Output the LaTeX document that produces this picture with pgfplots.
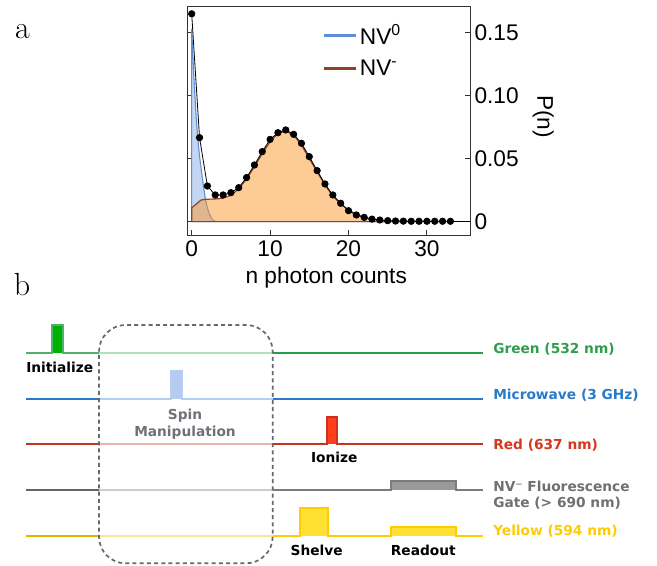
\documentclass[border=0pt]{standalone}
\usepackage{fontspec}
\usepackage{pgfplots}
\pgfplotsset{compat=1.18}
\newfontfamily\arial{Liberation Sans}
\newfontfamily\verd{DejaVu Sans}
\definecolor{cgreen}{HTML}{249C48}
\definecolor{cgreenF}{HTML}{B2DFC0}
\definecolor{cgreenP}{HTML}{00B200}
\definecolor{cgreenT}{HTML}{2E9E4C}
\definecolor{cblue}{HTML}{2A7AC8}
\definecolor{cblueF}{HTML}{B3CFF5}
\definecolor{cblueP}{HTML}{B5CCEE}
\definecolor{cred}{HTML}{C8321E}
\definecolor{credF}{HTML}{E9B4AC}
\definecolor{credP}{HTML}{FF3E1E}
\definecolor{credT}{HTML}{D4371C}
\definecolor{cgray}{HTML}{646569}
\definecolor{cgrayF}{HTML}{CACBCD}
\definecolor{cgrayP}{HTML}{9A9A9A}
\definecolor{cgrayT}{HTML}{707070}
\definecolor{cyelL}{HTML}{E6B200}
\definecolor{cyelF}{HTML}{F6E4A2}
\definecolor{cyel}{HTML}{FFCC00}
\definecolor{cyelP}{HTML}{FFE033}
\definecolor{cbox}{HTML}{666A70}
\definecolor{cspin}{HTML}{6E7178}
\definecolor{nvblue}{HTML}{5B8ED6}
\definecolor{nvbluefill}{HTML}{C5D6F0}
\definecolor{nvorange}{HTML}{FB972D}
\definecolor{nvbrown}{HTML}{8E4424}
\begin{document}
\begin{tikzpicture}
\useasboundingbox (0pt,0pt) rectangle (492.75pt,423.75pt);
% ---------------- panel b: timing diagram (pixel coordinates) ----------------
\begin{axis}[at={(0pt,0pt)}, anchor=south west, scale only axis,
  width=492.75pt, height=423.75pt, xmin=0, xmax=657, ymin=0, ymax=565,
  y dir=reverse, hide axis, clip=false,
  tl/.style={no markers, line width=1.5pt, line join=miter},
  pl/.style={no markers, line width=1.5pt, line join=miter}]
% green
\addplot[pl, draw=none, fill=cgreenP] coordinates {(52.3,352.7)(52.3,325)(63.3,325)(63.3,352.7)};
\addplot[tl, color=cgreen!80!white] coordinates {(26,352.7)(52.3,352.7)(52.3,325)(63.3,325)(63.3,352.7)(99,352.7)};
\addplot[tl, color=cgreenF] coordinates {(99,352.7)(272.7,352.7)};
\addplot[tl, color=cgreen] coordinates {(272.7,352.7)(482.7,352.7)};
% microwave
\addplot[tl, color=cblue] coordinates {(26,399)(99,399)};
\addplot[pl, draw=none, fill=cblueP] coordinates {(171,399)(171,370.7)(182.3,370.7)(182.3,399)};
\addplot[tl, color=cblueF] coordinates {(99,399)(171,399)(171,370.7)(182.3,370.7)(182.3,399)(272.7,399)};
\addplot[tl, color=cblue] coordinates {(272.7,399)(482.7,399)};
% red
\addplot[tl, color=cred] coordinates {(26,444.3)(99,444.3)};
\addplot[tl, color=credF] coordinates {(99,444.3)(272.7,444.3)};
\addplot[pl, draw=none, fill=credP] coordinates {(327.3,444.3)(327.3,416.7)(337.3,416.7)(337.3,444.3)};
\addplot[tl, color=cred] coordinates {(272.7,444.3)(327.3,444.3)(327.3,416.7)(337.3,416.7)(337.3,444.3)(482.7,444.3)};
% gray gate
\addplot[tl, color=cgray] coordinates {(26,490.3)(99,490.3)};
\addplot[tl, color=cgrayF] coordinates {(99,490.3)(272.7,490.3)};
\addplot[pl, draw=none, fill=cgrayP] coordinates {(391,490.3)(391,481)(455.7,481)(455.7,490.3)};
\addplot[tl, color=cgray!85!white] coordinates {(272.7,490.3)(391,490.3)(391,481)(455.7,481)(455.7,490.3)(482.7,490.3)};
% yellow
\addplot[tl, color=cyelL] coordinates {(26,536)(99,536)};
\addplot[tl, color=cyelF] coordinates {(99,536)(272.7,536)};
\addplot[pl, draw=none, fill=cyelP] coordinates {(300,536)(300,508.3)(328.3,508.3)(328.3,536)};
\addplot[pl, draw=none, fill=cyelP] coordinates {(391,536)(391,526.7)(455.7,526.7)(455.7,536)};
\addplot[tl, color=cyel] coordinates {(272.7,536)(300,536)(300,508.3)(328.3,508.3)(328.3,536)(391,536)(391,526.7)(455.7,526.7)(455.7,536)(482.7,536)};
% dashed box
\addplot[no markers, color=cbox, line width=1.3pt, dash pattern=on 3pt off 2.4pt, rounded corners=20pt]
  coordinates {(185,325)(272.7,325)(272.7,563.3)(99,563.3)(99,325)(185,325)};
% texts
\tikzset{lab/.style={font=\verd\bfseries\fontsize{10.3}{12}\selectfont, inner sep=0pt}}
\node[lab, anchor=base west, text=cgreenT] at (axis cs:493,353.3) {Green (532 nm)};
\node[lab, anchor=base west, text=cblue] at (axis cs:493,399.3) {Microwave (3 GHz)};
\node[lab, anchor=base west, text=credT] at (axis cs:493,449) {Red (637 nm)};
\node[lab, anchor=base west, text=cgrayT] at (axis cs:493,491) {NV⁻ Fluorescence};
\node[lab, anchor=base west, text=cgrayT] at (axis cs:493,507.3) {Gate (> 690 nm)};
\node[lab, anchor=base west, text=cyel] at (axis cs:493,535.7) {Yellow (594 nm)};
\node[lab, anchor=base west, text=black] at (axis cs:26,372.7) {Initialize};
\node[lab, anchor=base, text=cspin] at (axis cs:185,419.3) {Spin};
\node[lab, anchor=base, text=cspin] at (axis cs:185,436) {Manipulation};
\node[lab, anchor=base, text=black] at (axis cs:334.3,462.7) {Ionize};
\node[lab, anchor=base, text=black] at (axis cs:316.7,555) {Shelve};
\node[lab, anchor=base, text=black] at (axis cs:423.3,555) {Readout};
\node[anchor=base, font=\fontsize{24}{24}\selectfont] at (axis cs:22.5,38) {a};
\node[anchor=base, font=\fontsize{24}{24}\selectfont] at (axis cs:22,295) {b};
\end{axis}
% ---------------- panel a: photon statistics ----------------
\begin{axis}[at={(140.25pt,247.5pt)}, anchor=south west, scale only axis,
  width=212.25pt, height=171pt,
  xmin=-0.6, xmax=35.5, ymin=-0.0106, ymax=0.1704,
  axis line style={draw=black!80, line width=0.75pt},
  xtick={0,10,20,30}, xticklabels={0,10,20,30},
  ytick={0,0.05,0.1,0.15}, yticklabels={0,0.05,0.10,0.15},
  yticklabel pos=right, xtick pos=left,
  tick align=inside, major tick length=3.5pt,
  tick style={black!80, line width=0.75pt},
  ticklabel style={font=\arial\fontsize{17}{17}\selectfont},
  xticklabel style={anchor=base, yshift=-16.3pt},
  yticklabel style={anchor=west, inner sep=0pt, xshift=3.2pt},
  xlabel={n photon counts}, ylabel={P(n)},
  every axis x label/.style={at={(rel axis cs:0.492,0)}, anchor=base, yshift=-36.2pt,
    font=\arial\fontsize{17}{17}\selectfont},
  every axis y label/.style={at={(rel axis cs:1,0.519)}, anchor=center, xshift=55pt, rotate=-90,
    font=\arial\fontsize{17}{17}\selectfont},
  legend style={at={(0.4795,0.935)}, anchor=north west, draw=none, fill=none,
    font=\arial\fontsize{17}{17}\selectfont, row sep=6pt, inner sep=0pt},
  legend cell align=left,
  legend image code/.code={\draw[#1, line width=2.25pt] (0pt,0pt) -- (23.5pt,0pt);}]
\addlegendimage{nvblue}
\addlegendentry{NV\textsuperscript{0}}
\addlegendimage{nvbrown}
\addlegendentry{NV\textsuperscript{-}}
\addplot[black, line width=0.6pt, no markers] coordinates {(0,0)(35.5,0)};
% NV0 distribution
\addplot[draw=nvblue, line width=0.8pt, fill=nvbluefill, no markers] coordinates {
(0,0)(0,0.153)(0.25,0.118)(0.5,0.090)(0.75,0.0675)(1,0.052)(1.25,0.040)(1.5,0.028)
(1.75,0.018)(2,0.011)(2.25,0.006)(2.5,0.003)(2.75,0.001)(3,0.0003)(3.5,0)(33,0)} -- cycle;
% NV- distribution
\addplot[draw=nvbrown, line width=0.9pt, fill=nvorange, fill opacity=0.5, no markers] coordinates {
(0,0)(0,0.011)(1.2,0.0172)(2,0.0178)(3,0.018)(4,0.0186)(5,0.021)(6,0.026)(7,0.034)(8,0.0437)
(9,0.054)(10,0.0635)(11,0.070)(12,0.072)(13,0.0688)(14,0.0608)(15,0.050)(16,0.0397)
(17,0.029)(18,0.0204)(19,0.014)(20,0.0093)(21,0.0058)(22,0.0034)(23,0.002)(24,0.001)
(25,0.0005)(26,0.0002)(27,0.0001)(33,0)} -- cycle;
% measured P(n)
\addplot[black, line width=0.6pt, mark=*, mark size=2.4pt, mark options={fill=black}] coordinates {
(0,0.165)(1,0.0667)(2,0.0283)(3,0.0212)(4,0.0212)(5,0.023)(6,0.027)(7,0.035)(8,0.045)
(9,0.0556)(10,0.0653)(11,0.0706)(12,0.0728)(13,0.0693)(14,0.0622)(15,0.0516)(16,0.0405)
(17,0.0299)(18,0.0212)(19,0.0146)(20,0.0087)(21,0.0053)(22,0.0034)(23,0.002)(24,0.0013)
(25,0.0008)(26,0.0005)(27,0.0004)(28,0.0003)(29,0.0003)(30,0.0003)(31,0.0003)(32,0.0003)(33,0.0003)};
\end{axis}
\end{tikzpicture}
\end{document}
